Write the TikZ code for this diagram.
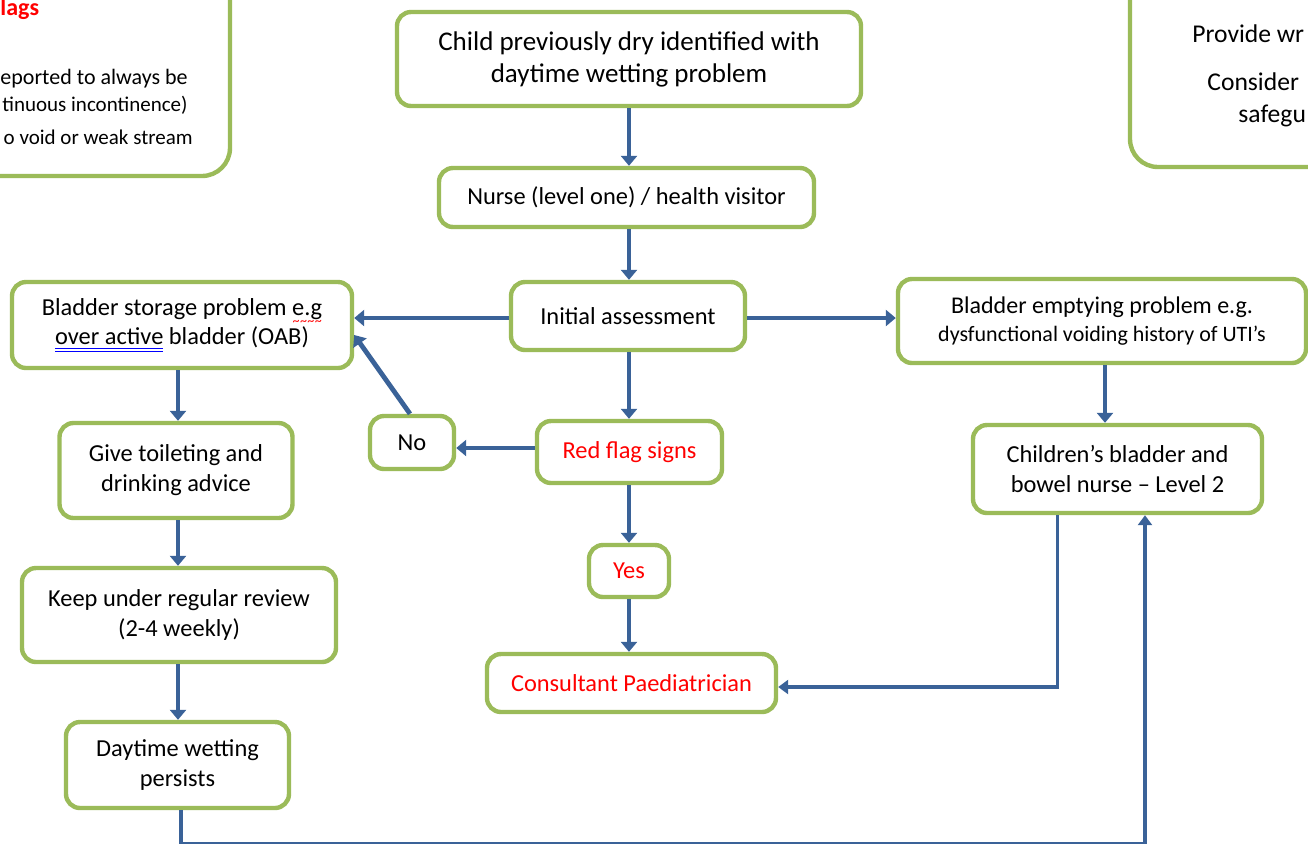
\documentclass[tikz,border=0pt]{standalone}
\usepackage{fontspec}
\setmainfont{Carlito}
\usetikzlibrary{arrows.meta,calc}
\definecolor{boxgreen}{HTML}{9BBB59}
\definecolor{flowblue}{HTML}{3A6298}
% proofing marks under words
\newcommand\spellwave[1]{\setbox0\hbox{#1}\leavevmode\rlap{\hbox to\wd0{\color{red}\xleaders\hbox{\fontsize{7}{7}\selectfont\raisebox{-5pt}{\textasciitilde}}\hfill}}\box0\relax}
\newcommand\grammarline[1]{\setbox0\hbox{#1}\leavevmode\rlap{\color{blue}\rule[-2.2pt]{\wd0}{0.45pt}}\rlap{\color{blue}\rule[-3.7pt]{\wd0}{0.45pt}}\box0\relax}
\begin{document}
\begin{tikzpicture}[x=0.5pt,y=-0.5pt,
  box/.style={draw=boxgreen,line width=2.2pt,rounded corners=7pt,fill=white,align=center,inner sep=2pt,font=\fontsize{12.2}{15}\selectfont},
  bigbox/.style={box,rounded corners=14pt},
  cut/.style={inner sep=0pt,font=\fontsize{10.5}{13}\selectfont},
  arr/.style={draw=flowblue,line width=2.4pt,-{Triangle[width=8pt,length=5pt]}},
  link/.style={draw=flowblue,line width=1.6pt,-{Triangle[width=7pt,length=5pt]}}]
 \useasboundingbox (0,0) rectangle (1308,843);
 \clip (0,0) rectangle (1308,843);
 % boxes cut by the page edge
 \node[bigbox,minimum width=145pt,minimum height=118pt] (flags) at (85,58) {};
 \node[anchor=west,text=red,font=\fontsize{12}{14}\bfseries,inner sep=0pt] (flagshead) at (0,9) {lags};
 \node[cut,anchor=east,font=\fontsize{11}{13}\selectfont] (flagsa) at (188,79) {eported to always be};
 \node[cut,anchor=east] (flagsb) at (188,105) {tinuous incontinence)};
 \node[cut,anchor=east] (flagsc) at (193,137) {o void or weak stream};
 \node[bigbox,minimum width=240pt,minimum height=112pt] (advice) at (1370,55) {};
 \node[anchor=west,inner sep=0pt,font=\fontsize{12.8}{15}\selectfont] (advicea) at (1192,34) {Provide wr};
 \node[anchor=west,inner sep=0pt,font=\fontsize{12.8}{15}\selectfont] (adviceb) at (1207,82) {Consider};
 \node[anchor=west,inner sep=0pt,font=\fontsize{12.8}{15}\selectfont] (advicec) at (1238,116) {safegu};
 % main flow
 \node[box,minimum width=232pt,minimum height=47pt,font=\fontsize{13.5}{16}\selectfont] (child) at (629,59)
  {Child previously dry identified with\\daytime wetting problem};
 \node[box,minimum width=187.5pt,minimum height=29.5pt] (nurse) at (626.5,197.5) {Nurse (level one) / health visitor};
 \node[box,minimum width=117pt,minimum height=34pt] (init) at (628,316) {Initial assessment};
 \node[box,minimum width=170pt,minimum height=43pt,font=\fontsize{12.2}{14.5}\selectfont] (store) at (182,325)
  {Bladder storage problem \spellwave{e.g}\\\grammarline{over active} bladder (OAB)};
 \node[box,minimum width=204pt,minimum height=42pt,font=\fontsize{12}{14}\selectfont] (empty) at (1102,321)
  {Bladder emptying problem e.g.\\{\fontsize{11}{14}\selectfont dysfunctional voiding history of UTI’s}};
 \node[box,minimum width=92.5pt,minimum height=31pt,text=red] (red) at (629.5,452) {Red flag signs};
 \node[box,minimum width=42pt,minimum height=26.5pt] (no) at (412,442.5) {No};
 \node[box,minimum width=40pt,minimum height=26pt,text=red] (yes) at (629,571) {Yes};
 \node[box,minimum width=144.5pt,minimum height=29pt,text=red] (cons) at (631.5,683) {Consultant Paediatrician};
 \node[box,minimum width=116.5pt,minimum height=47.5pt] (give) at (176,470.5) {Give toileting and\\drinking advice};
 \node[box,minimum width=157pt,minimum height=47pt] (keep) at (179,615) {Keep under regular review\\(2-4 weekly)};
 \node[box,minimum width=111.5pt,minimum height=43pt] (day) at (177.5,765) {Daytime wetting\\persists};
 \node[box,minimum width=144.5pt,minimum height=44pt] (kids) at (1117.5,469) {Children’s bladder and\\bowel nurse – Level 2};
 % connectors
 \draw[arr] (child.south -| 629,0) -- (nurse.north -| 629,0);
 \draw[arr] (nurse.south -| 629,0) -- (init.north -| 629,0);
 \draw[arr] ($(init.west)+(0,2)$) -- ($(init.west -| store.east)+(0,2)$);
 \draw[arr] ($(init.east)+(0,2)$) -- ($(init.east -| empty.west)+(0,2)$);
 \draw[arr] (init.south -| 629,0) -- (red.north -| 629,0);
 \draw[arr] ($(red.west)+(0,-4)$) -- ($(red.west -| no.east)+(0,-4)$);
 \draw[arr] ($(no.north)+(-2,0)$) -- ($(store.east)+(0,10)$);
 \draw[arr] (red.south -| 629,0) -- (yes.north -| 629,0);
 \draw[arr] (yes.south -| 629,0) -- (cons.north -| 629,0);
 \draw[arr] (store.south -| 178,0) -- (give.north -| 178,0);
 \draw[arr] (give.south -| 178,0) -- (keep.north -| 178,0);
 \draw[arr] (keep.south -| 178,0) -- (day.north -| 178,0);
 \draw[arr] (empty.south -| 1105,0) -- (kids.north -| 1105,0);
 \draw[link] ($(kids.south)+(-60,0)$) |- ($(cons.east)+(0,4)$);
 \draw[link] (day.south -| 181,0) -- ++(0,33) -| ($(kids.south)+(27.5,0)$);
\end{tikzpicture}
\end{document}
